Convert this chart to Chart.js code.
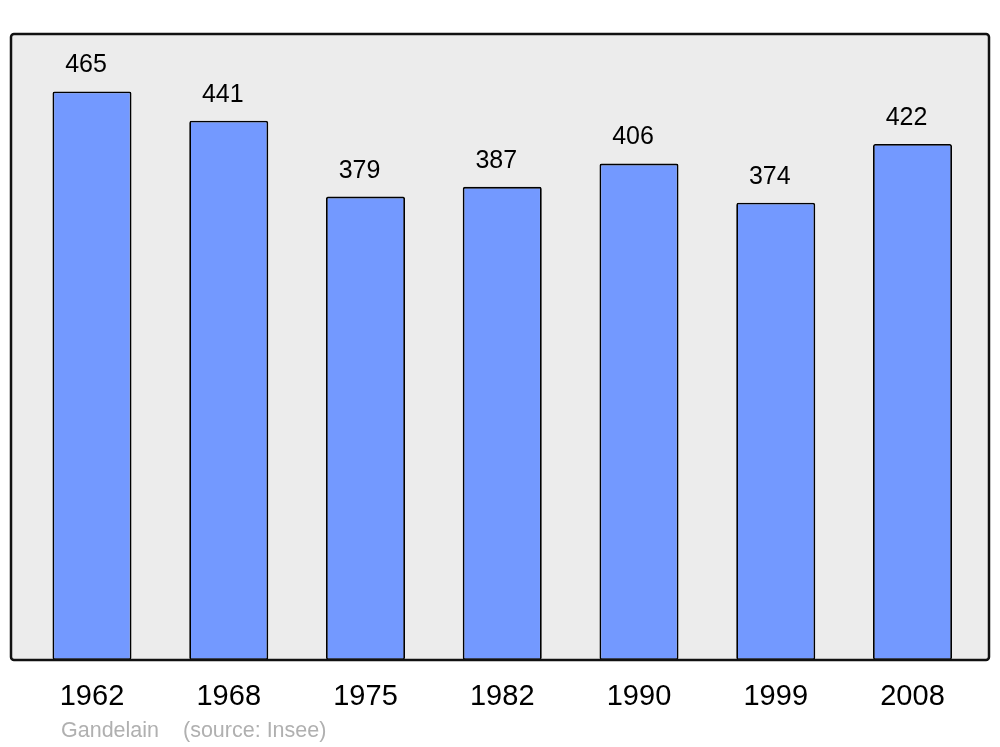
<!DOCTYPE html>
<html>
<head>
<meta charset="utf-8">
<script src="https://cdn.jsdelivr.net/npm/chart.js@4/dist/chart.umd.min.js"></script>
<style>
  html, body { margin: 0; padding: 0; background: #fff; }
  #wrap { width: 1000px; height: 747px; }
</style>
</head>
<body>
<div id="wrap"><canvas id="popChart"></canvas></div>
<script>
const years = ["1962", "1968", "1975", "1982", "1990", "1999", "2008"];
const population = [465, 441, 379, 387, 406, 374, 422];
const sourceText = ["Gandelain", "(source: Insee)"];

const frame = {
  id: "frame",
  beforeDatasetsDraw(chart) {
    const { ctx, chartArea: a } = chart;
    ctx.save();
    ctx.fillStyle = "#ececec";
    ctx.beginPath();
    ctx.roundRect(a.left, a.top, a.right - a.left, a.bottom - a.top, 3);
    ctx.fill();
    ctx.restore();
  },
  afterDatasetsDraw(chart) {
    const { ctx, chartArea: a } = chart;
    ctx.save();
    ctx.strokeStyle = "#111";
    ctx.lineWidth = 2.5;
    ctx.beginPath();
    ctx.roundRect(a.left, a.top, a.right - a.left, a.bottom - a.top, 3);
    ctx.stroke();

    // value labels over the bars
    ctx.fillStyle = "#000";
    ctx.font = "25px 'Liberation Sans', Arial, sans-serif";
    ctx.textAlign = "center";
    ctx.textBaseline = "middle";
    chart.getDatasetMeta(0).data.forEach((bar, i) => {
      ctx.fillText(String(population[i]), bar.x - 6, bar.y - 26);
    });

    // source line
    ctx.fillStyle = "#b0b0b0";
    ctx.font = "21.5px 'Liberation Sans', Arial, sans-serif";
    ctx.textAlign = "left";
    ctx.fillText(sourceText[0], 61, 731);
    ctx.fillText(sourceText[1], 183, 731);
    ctx.restore();
  }
};

new Chart(document.getElementById("popChart"), {
  type: "bar",
  data: {
    datasets: [{
      data: population.map((v, i) => ({ x: i, y: v })),
      backgroundColor: "#7399ff",
      borderColor: "#000",
      borderWidth: 1.8,
      borderSkipped: false,
      borderRadius: 2,
      barPercentage: 0.578,
      categoryPercentage: 1
    }]
  },
  options: {
    responsive: true,
    maintainAspectRatio: false,
    animation: false,
    layout: { padding: { left: 11, right: 11, top: 34, bottom: 0 } },
    plugins: { legend: { display: false }, tooltip: { enabled: false } },
    scales: {
      x: {
        type: "linear",
        offset: false,
        min: -0.5923,
        max: 6.5594,
        grid: { display: false, drawTicks: false },
        border: { display: false },
        afterBuildTicks(scale) {
          scale.ticks = years.map((_, i) => ({ value: i }));
        },
        afterFit(scale) { scale.height = 87; },
        ticks: {
          padding: 20,
          color: "#000",
          font: { family: "'Liberation Sans', Arial, sans-serif", size: 29 },
          callback: v => years[v]
        }
      },
      y: {
        display: false,
        min: 0,
        max: 512
      }
    }
  },
  plugins: [frame]
});
</script>
</body>
</html>
